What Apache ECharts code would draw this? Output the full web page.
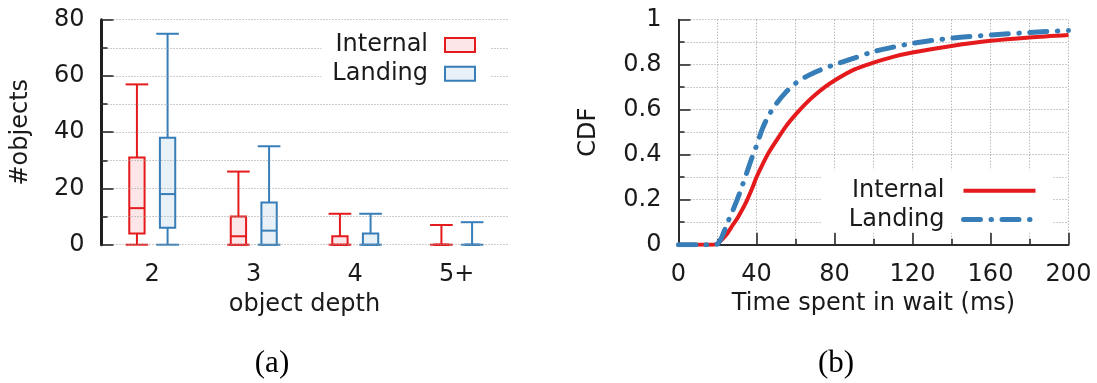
<!DOCTYPE html>
<html>
<head>
<meta charset="utf-8">
<script src="https://cdn.jsdelivr.net/npm/echarts@6/dist/echarts.min.js"></script>
<style>
  html, body { margin: 0; padding: 0; background: #fff; }
  #chart { width: 1097px; height: 383px; }
</style>
</head>
<body>
<div id="chart"></div>
<script>
// ---------- data ----------
const depthCategories = ['2', '3', '4', '5+'];
// [min, q1, median, q3, max] per depth
const internalBox = [[0, 4, 13, 31, 57], [0, 0, 3, 10, 26], [0, 0, 0, 3, 11], [0, 0, 0, 0, 7]];
const landingBox  = [[0, 6, 18, 38, 75], [0, 0, 5, 15, 35], [0, 0, 0, 4, 11], [0, 0, 0, 0, 8]];

const waitMs      = [0, 10, 18, 20, 22, 25, 28, 30, 32, 35, 38, 40, 43, 46, 50, 55, 60, 65, 70, 75, 80, 90, 100, 110, 120, 140, 160, 180, 200];
const internalCdf = [0, 0, 0, 0.005, 0.02, 0.05, 0.09, 0.115, 0.145, 0.195, 0.255, 0.30, 0.355, 0.405, 0.46, 0.525, 0.578, 0.625, 0.665, 0.70, 0.73, 0.778, 0.809, 0.835, 0.854, 0.883, 0.906, 0.921, 0.932];
const landingCdf  = [0, 0, 0, 0.003, 0.03, 0.095, 0.155, 0.198, 0.245, 0.32, 0.395, 0.44, 0.515, 0.57, 0.625, 0.677, 0.717, 0.745, 0.766, 0.785, 0.80, 0.829, 0.858, 0.878, 0.895, 0.918, 0.932, 0.943, 0.952];

const countTicks = [0, 20, 40, 60, 80];
const cdfTicks = [0, 0.2, 0.4, 0.6, 0.8, 1];
const waitTicks = [0, 40, 80, 120, 160, 200];

// ---------- style ----------
const RED = '#e41a1c', BLUE = '#377eb8';
const RED_FILL = '#fde6e7', BLUE_FILL = '#e9f1f8';
const TXT = '#1a1a1a', AX = '#2b2b2b';
const FONT = 'DejaVu Sans';
const dotted = { color: '#9a9a9a', width: 1, type: [1, 2] };

function boxRender(sign, stroke, fill) {
  return function (params, api) {
    const cat = api.value(0);
    const band = api.size([1, 0])[0];
    const cx = api.coord([cat, 0])[0] + sign * band * 0.151;
    const y = i => api.coord([cat, api.value(i)])[1];
    const yMin = y(1), yQ1 = y(2), yMed = y(3), yQ3 = y(4), yMax = y(5);
    const bw = band * 0.151, cw = band * 0.223;
    const ls = { stroke: stroke, lineWidth: 2, fill: null };
    return {
      type: 'group',
      children: [
        { type: 'line', shape: { x1: cx, y1: yMin, x2: cx, y2: yQ1 }, style: ls },
        { type: 'line', shape: { x1: cx, y1: yQ3, x2: cx, y2: yMax }, style: ls },
        { type: 'line', shape: { x1: cx - cw / 2, y1: yMin, x2: cx + cw / 2, y2: yMin }, style: ls },
        { type: 'line', shape: { x1: cx - cw / 2, y1: yMax, x2: cx + cw / 2, y2: yMax }, style: ls },
        { type: 'rect', shape: { x: cx - bw / 2, y: yQ3, width: bw, height: yQ1 - yQ3 }, style: { fill: fill, stroke: stroke, lineWidth: 2 } },
        { type: 'line', shape: { x1: cx - bw / 2, y1: yMed, x2: cx + bw / 2, y2: yMed }, style: ls }
      ]
    };
  };
}

const labelStyle = { fontSize: 24, color: TXT, fontFamily: FONT };

function valueAxisBase(extra) {
  return Object.assign({
    type: 'value',
    axisLine: { show: true, onZero: false, lineStyle: { color: AX, width: 2 } },
    axisTick: { show: true, inside: true, length: 12, lineStyle: { color: AX, width: 1.6 } },
    minorTick: { show: true, splitNumber: 2, length: 6, lineStyle: { color: AX, width: 1.6 } },
    splitLine: { show: true, lineStyle: dotted },
    minorSplitLine: { show: true, lineStyle: dotted },
    nameTextStyle: labelStyle
  }, extra);
}

const option = {
  animation: false,
  backgroundColor: '#fff',
  textStyle: { fontFamily: FONT },
  grid: [
    { left: 101.5, top: 19.7, width: 406, height: 225 },
    { left: 678.5, top: 19.7, width: 390, height: 225 }
  ],
  xAxis: [
    {
      gridIndex: 0, type: 'category', data: depthCategories,
      axisLine: { show: false }, axisTick: { show: false },
      axisLabel: Object.assign({ margin: 18 }, labelStyle),
      splitLine: { show: false },
      name: 'object depth', nameLocation: 'middle', nameGap: 48, nameTextStyle: labelStyle
    },
    valueAxisBase({
      gridIndex: 1, min: waitTicks[0], max: waitTicks[waitTicks.length - 1], interval: 40,
      axisLabel: Object.assign({ margin: 18 }, labelStyle),
      name: 'Time spent in wait (ms)', nameLocation: 'middle', nameGap: 46
    })
  ],
  yAxis: [
    valueAxisBase({
      gridIndex: 0, position: 'left', min: countTicks[0], max: countTicks[countTicks.length - 1], interval: 20,
      axisLine: { show: true, onZero: false, lineStyle: { color: '#1e1e1e', width: 3 } },
      axisLabel: Object.assign({ margin: 17 }, labelStyle),
      name: '#objects', nameLocation: 'middle', nameGap: 69,
      z: 10
    }),
    valueAxisBase({
      gridIndex: 1, position: 'left', min: cdfTicks[0], max: cdfTicks[cdfTicks.length - 1], interval: 0.2,
      axisLabel: Object.assign({ margin: 17, formatter: v => String(+v.toFixed(1)) }, labelStyle),
      name: 'CDF', nameLocation: 'middle', nameGap: 78
    })
  ],
  legend: [
    {
      orient: 'vertical', right: 607, top: 23, align: 'right',
      itemWidth: 30, itemHeight: 14, itemGap: 4.7,
      padding: [10, 14, 10, 11], backgroundColor: '#fff',
      textStyle: { fontSize: 24, color: TXT, fontFamily: FONT, padding: [0, 12, 0, 0] },
      selectedMode: false, z: 20,
      data: [
        { name: 'Internal', icon: 'rect', itemStyle: { color: RED_FILL, borderColor: RED, borderWidth: 2 } },
        { name: 'Landing', icon: 'rect', itemStyle: { color: BLUE_FILL, borderColor: BLUE, borderWidth: 2 } }
      ]
    },
    {
      orient: 'vertical', right: 45, top: 170, align: 'right',
      itemWidth: 72, itemHeight: 14, itemGap: 4.7,
      padding: [8.7, 14, 1, 28], backgroundColor: '#fff',
      textStyle: { fontSize: 24, color: TXT, fontFamily: FONT, padding: [0, 14, 0, 0] },
      selectedMode: false,
      formatter: n => n.replace(' CDF', ''),
      data: [
        { name: 'Internal CDF', itemStyle: { color: 'rgba(0,0,0,0)', borderWidth: 0 }, lineStyle: { color: RED, width: 4 } },
        { name: 'Landing CDF', itemStyle: { color: 'rgba(0,0,0,0)', borderWidth: 0 }, lineStyle: { color: BLUE, width: 5, type: [17, 10.5, 0.5, 10.5], cap: 'round' } }
      ]
    }
  ],
  graphic: [
    { type: 'text', x: 272, y: 364, style: { text: '(a)', fontSize: 31, fontFamily: 'Liberation Serif', fill: '#000', align: 'center', verticalAlign: 'middle' } },
    { type: 'text', x: 836, y: 364, style: { text: '(b)', fontSize: 31, fontFamily: 'Liberation Serif', fill: '#000', align: 'center', verticalAlign: 'middle' } }
  ],
  series: [
    {
      name: 'Internal', type: 'custom', xAxisIndex: 0, yAxisIndex: 0,
      renderItem: boxRender(-1, RED, RED_FILL),
      itemStyle: { color: RED },
      encode: { x: 0, y: [1, 2, 3, 4, 5] },
      data: internalBox.map((d, i) => [i].concat(d)), z: 3
    },
    {
      name: 'Landing', type: 'custom', xAxisIndex: 0, yAxisIndex: 0,
      renderItem: boxRender(1, BLUE, BLUE_FILL),
      itemStyle: { color: BLUE },
      encode: { x: 0, y: [1, 2, 3, 4, 5] },
      data: landingBox.map((d, i) => [i].concat(d)), z: 3
    },
    {
      name: 'Internal CDF', type: 'line', xAxisIndex: 1, yAxisIndex: 1,
      data: waitMs.map((x, i) => [x, internalCdf[i]]),
      symbol: 'none', smooth: 0.3,
      lineStyle: { color: RED, width: 4 }, itemStyle: { color: RED }, z: 3
    },
    {
      name: 'Landing CDF', type: 'line', xAxisIndex: 1, yAxisIndex: 1,
      data: waitMs.map((x, i) => [x, landingCdf[i]]),
      symbol: 'none', smooth: 0.3,
      lineStyle: { color: BLUE, width: 5, type: [17, 10.5, 0.5, 10.5], cap: 'round' }, itemStyle: { color: BLUE }, z: 4
    }
  ]
};

const chart = echarts.init(document.getElementById('chart'), null, { renderer: 'canvas' });
chart.setOption(option);
</script>
</body>
</html>
